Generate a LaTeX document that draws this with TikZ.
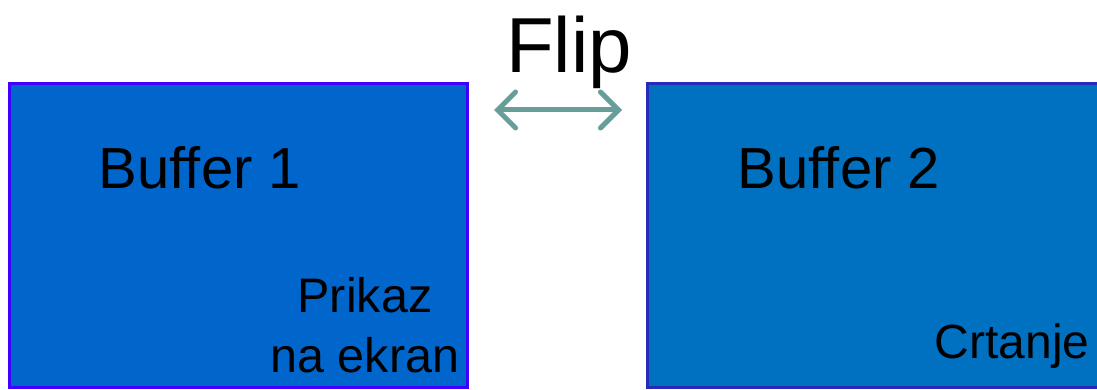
\documentclass[tikz,border=0pt]{standalone}
\usepackage{fontspec}
\setmainfont[Ligatures=NoCommon]{Liberation Sans}
\usetikzlibrary{arrows.meta}
\definecolor{fillA}{HTML}{0066CC}
\definecolor{lineA}{HTML}{3F00FF}
\definecolor{fillB}{HTML}{0070C0}
\definecolor{lineB}{HTML}{2A2AB8}
\definecolor{arrowc}{HTML}{679E9A}
\begin{document}
\begin{tikzpicture}[x=1pt,y=1pt,
  bufA/.style={fill=fillA,draw=lineA,line width=3pt},
  bufB/.style={fill=fillB,draw=lineB,line width=3pt},
  lbl/.style={inner sep=0pt,anchor=base},
  flipArrow/.style={draw=arrowc,line width=5pt,{Straight Barb[length=18pt,width=36pt,line cap=round]}-{Straight Barb[length=18pt,width=36pt,line cap=round]}}]
\useasboundingbox (0,0) rectangle (1097,389);
\begin{scope}
\clip (0,0) rectangle (1097,389);
\draw[bufA] (9,2) rectangle (467,305);
\draw[bufB] (647,2) rectangle (1110,305);
\end{scope}
\node[lbl,font=\fontsize{78}{80}\selectfont] (flip) at (569,316) {Flip};
\coordinate (aL) at (494,279);
\coordinate (aR) at (622,279);
\draw[flipArrow] (aL) -- (aR);
\node[lbl,font=\fontsize{58}{60}\selectfont] (b1) at (200,201) {Buffer 1};
\node[lbl,font=\fontsize{58}{60}\selectfont] (b2) at (839,201) {Buffer 2};
\node[lbl,font=\fontsize{48.5}{60}\selectfont] (p1) at (365,77) {Prikaz};
\node[lbl,font=\fontsize{48.5}{60}\selectfont] (p2) at (365,17) {na ekran};
\node[lbl,font=\fontsize{48}{60}\selectfont] (c) at (1012,31) {Crtanje};
\end{tikzpicture}
\end{document}
